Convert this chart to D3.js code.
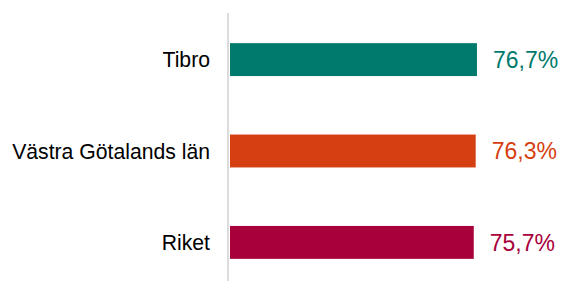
<!DOCTYPE html>
<html>
<head>
<meta charset="utf-8">
<script src="https://cdn.jsdelivr.net/npm/d3@7"></script>
<style>
  body { margin: 0; background: #fff; }
  svg { display: block; font-family: "Liberation Sans", Arial, sans-serif; }
</style>
</head>
<body>
<div id="graph"></div>
<script>
const categories = ["Tibro", "Västra Götalands län", "Riket"];
const values = [76.7, 76.3, 75.7];
const colors = ["#007a6c", "#d53f11", "#a8003a"];

const width = 563;
const height = 281;

const svg = d3.select("#graph")
  .append("svg")
  .attr("width", width)
  .attr("height", height);

const x = d3.scaleLinear()
  .domain([0, 100])
  .range([230, 552]);

const y = d3.scaleBand()
  .domain(categories)
  .range([13, 289])
  .paddingInner(0.64)
  .paddingOuter(0.33);

// vertical baseline
svg.append("line")
  .attr("x1", 228)
  .attr("x2", 228)
  .attr("y1", 13)
  .attr("y2", height)
  .attr("stroke", "#dcdcdc")
  .attr("stroke-width", 2);

const rows = categories.map((c, i) => ({ cat: c, value: values[i], color: colors[i] }));

svg.selectAll("rect.bar")
  .data(rows)
  .enter()
  .append("rect")
    .attr("class", "bar")
    .attr("x", x(0))
    .attr("y", d => y(d.cat))
    .attr("width", d => x(d.value) - x(0))
    .attr("height", y.bandwidth())
    .attr("fill", d => d.color);

// category labels
svg.selectAll("text.cat")
  .data(rows)
  .enter()
  .append("text")
    .attr("class", "cat")
    .attr("x", 210)
    .attr("y", d => y(d.cat) + y.bandwidth() / 2)
    .attr("dy", "0.36em")
    .attr("text-anchor", "end")
    .attr("font-size", 21.2)
    .attr("fill", "#000")
    .text(d => d.cat);

// value labels
const fmt = v => v.toFixed(1).replace(".", ",") + "%";
svg.selectAll("text.val")
  .data(rows)
  .enter()
  .append("text")
    .attr("class", "val")
    .attr("x", d => x(d.value) + 16)
    .attr("y", d => y(d.cat) + y.bandwidth() / 2)
    .attr("dy", "0.36em")
    .attr("font-size", 23)
    .attr("fill", d => d.color)
    .text(d => fmt(d.value));
</script>
</body>
</html>
